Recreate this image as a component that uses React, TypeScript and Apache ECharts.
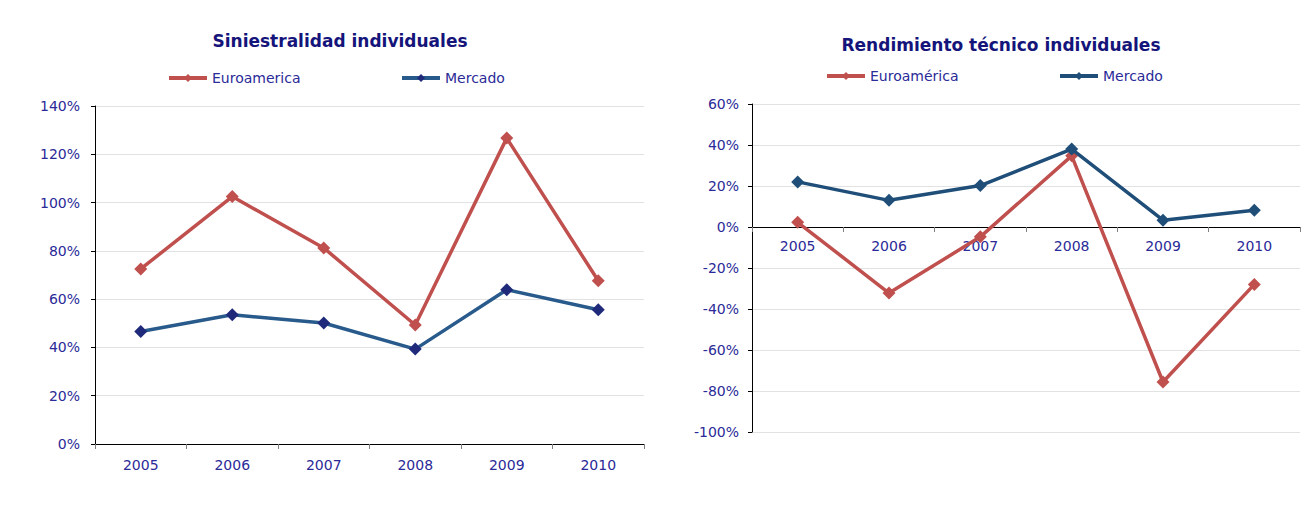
import React, { useEffect, useRef } from "react";
import * as echarts from "echarts";

const years = ["2005", "2006", "2007", "2008", "2009", "2010"];
const sinEuro = [72.5, 102.5, 81.2, 49.3, 126.7, 67.6];
const sinMercado = [46.6, 53.5, 50.1, 39.3, 63.9, 55.6];
const rendEuro = [2.3, -32.2, -4.8, 34.7, -75.6, -28.0];
const rendMercado = [22.0, 13.0, 20.2, 38.0, 3.3, 8.2];

const FONT = "DejaVu Sans";
const TXT = "#2a2a98";
const TITLE = "#14147a";
const RED = "#c0504d";
const BLUE_LINE = "#285a8c";
const BLUE_MARK = "#1f2a7a";
const BLUE2 = "#1f4e79";

export default function App() {
  const ref = useRef<HTMLDivElement>(null);
  useEffect(() => {
    if (!ref.current) return;
    const chart = echarts.init(ref.current, undefined, { renderer: "svg" });
    const pct = (v: number) => `${Math.round(v)}%`;
    const yAxisCommon = {
      type: "value" as const,
      interval: 20,
      axisLine: { show: true, lineStyle: { color: "#000", width: 1 } },
      axisTick: { show: true, length: 4, lineStyle: { color: "#000" } },
      axisLabel: { formatter: pct, color: TXT, fontFamily: FONT, fontSize: 14, margin: 15 },
      splitLine: { show: true, lineStyle: { color: "#e2e2e2", width: 1 } },
    };
    const xAxisCommon = {
      type: "category" as const,
      data: years,
      boundaryGap: true,
      position: "bottom" as const,
      axisLine: { show: true, onZero: false, lineStyle: { color: "#000", width: 1 } },
      axisTick: { show: true, length: 5, alignWithLabel: false, lineStyle: { color: "#808080" } },
      axisLabel: { color: TXT, fontFamily: FONT, fontSize: 14 },
      splitLine: { show: false },
    };
    const lineSeries = (name: string, data: number[], idx: number, lineColor: string, markColor: string) => ({
      type: "line" as const,
      name,
      data,
      xAxisIndex: idx,
      yAxisIndex: idx,
      symbol: "diamond",
      symbolSize: 13,
      lineStyle: { color: lineColor, width: 3.5 },
      itemStyle: { color: markColor },
      z: name.startsWith("Merc") ? 3 : 2,
    });
    const legend = (left: number, top: number, name: string) => ({
      left,
      top,
      data: [name],
      itemWidth: 38,
      itemHeight: 10,
      itemGap: 4,
      lineStyle: { width: 4 },
      textStyle: { color: TXT, fontFamily: FONT, fontSize: 14 },
      selectedMode: false,
    });
    chart.setOption({
      animation: false,
      backgroundColor: "#fff",
      title: [
        {
          text: "Siniestralidad individuales",
          left: 335,
          top: 27,
          textAlign: "center",
          textStyle: { color: TITLE, fontFamily: FONT, fontSize: 17, fontWeight: "bold" },
        },
        {
          text: "Rendimiento técnico individuales",
          left: 996,
          top: 31,
          textAlign: "center",
          textStyle: { color: TITLE, fontFamily: FONT, fontSize: 17, fontWeight: "bold" },
        },
      ],
      legend: [
        legend(162, 66, "Euroamerica"),
        legend(395, 66, "Mercado"),
        legend(820, 64, "Euroamérica"),
        legend(1053, 64, "Mercado "),
      ],
      grid: [
        { left: 95, top: 106, width: 549, height: 338 },
        { left: 752, top: 104, width: 548, height: 328 },
      ],
      xAxis: [
        { ...xAxisCommon, gridIndex: 0, axisLabel: { ...xAxisCommon.axisLabel, margin: 14 } },
        { ...xAxisCommon, gridIndex: 1, offset: -205, axisLabel: { ...xAxisCommon.axisLabel, margin: 12 } },
      ],
      yAxis: [
        { ...yAxisCommon, gridIndex: 0, min: 0, max: 140 },
        { ...yAxisCommon, gridIndex: 1, min: -100, max: 60, axisLabel: { ...yAxisCommon.axisLabel, margin: 13 } },
      ],
      series: [
        lineSeries("Euroamerica", sinEuro, 0, RED, RED),
        lineSeries("Mercado", sinMercado, 0, BLUE_LINE, BLUE_MARK),
        lineSeries("Euroamérica", rendEuro, 1, RED, RED),
        lineSeries("Mercado ", rendMercado, 1, BLUE2, BLUE2),
      ],
    });
    return () => chart.dispose();
  }, []);
  return (
    <div
      ref={ref}
      style={{ position: "fixed", left: 0, top: 0, width: 1309, height: 520 }}
    />
  );
}
